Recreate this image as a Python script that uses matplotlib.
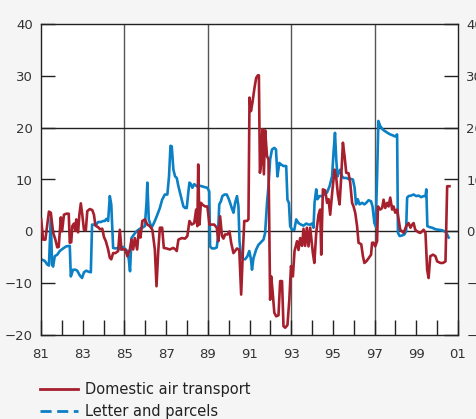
import numpy as np
import matplotlib
matplotlib.use("Agg")
import matplotlib.pyplot as plt
from matplotlib.lines import Line2D

# Domestic air transport (red), decimal years / percent
air_t = [1981.01, 1981.10, 1981.21, 1981.38, 1981.47, 1981.58, 1981.69, 1981.78, 1981.85, 1981.95,
         1982.01, 1982.10, 1982.21, 1982.33, 1982.38, 1982.45, 1982.50, 1982.58, 1982.65, 1982.69,
         1982.78, 1982.84, 1982.91, 1982.98, 1983.06, 1983.15, 1983.22, 1983.34, 1983.46, 1983.54,
         1983.61, 1983.74, 1983.83, 1983.94, 1984.02, 1984.11, 1984.22, 1984.30, 1984.37, 1984.46,
         1984.57, 1984.70, 1984.78, 1984.86, 1984.94, 1985.05, 1985.14, 1985.26, 1985.34, 1985.42,
         1985.50, 1985.61, 1985.69, 1985.77, 1985.86, 1985.98, 1986.10, 1986.22, 1986.34, 1986.46,
         1986.54, 1986.62, 1986.70, 1986.81, 1986.89, 1987.02, 1987.18, 1987.34, 1987.45, 1987.51,
         1987.59, 1987.75, 1987.91, 1988.02, 1988.12, 1988.23, 1988.35, 1988.44, 1988.50, 1988.54,
         1988.60, 1988.67, 1988.76, 1988.87, 1988.98, 1989.08, 1989.19, 1989.31, 1989.43, 1989.51,
         1989.59, 1989.68, 1989.75, 1989.83, 1989.94, 1990.04, 1990.12, 1990.23, 1990.40, 1990.51,
         1990.60, 1990.68, 1990.75, 1990.88, 1990.95, 1991.00, 1991.07, 1991.14, 1991.24, 1991.32,
         1991.40, 1991.45, 1991.50, 1991.56, 1991.62, 1991.69, 1991.75, 1991.84, 1991.91, 1991.99,
         1992.04, 1992.10, 1992.19, 1992.28, 1992.39, 1992.47, 1992.56, 1992.63, 1992.71, 1992.82,
         1992.91, 1992.99, 1993.08, 1993.16, 1993.28, 1993.35, 1993.43, 1993.52, 1993.59, 1993.67,
         1993.75, 1993.83, 1993.91, 1994.04, 1994.11, 1994.20, 1994.31, 1994.39, 1994.44, 1994.52,
         1994.63, 1994.72, 1994.79, 1994.87, 1994.98, 1995.08, 1995.16, 1995.24, 1995.32, 1995.40,
         1995.48, 1995.56, 1995.64, 1995.75, 1995.83, 1995.92, 1995.99, 1996.07, 1996.16, 1996.23,
         1996.36, 1996.44, 1996.51, 1996.60, 1996.71, 1996.83, 1996.88, 1996.95, 1997.03, 1997.12,
         1997.16, 1997.27, 1997.36, 1997.43, 1997.51, 1997.60, 1997.67, 1997.75, 1997.84, 1997.91,
         1997.99, 1998.08, 1998.15, 1998.23, 1998.32, 1998.39, 1998.52, 1998.63, 1998.72, 1998.80,
         1998.87, 1998.95, 1999.04, 1999.11, 1999.19, 1999.28, 1999.35, 1999.44, 1999.52, 1999.59,
         1999.67, 1999.80, 1999.92, 2000.00, 2000.16, 2000.28, 2000.40, 2000.48, 2000.59]
air_v = [2.3, -1.6, -1.6, 3.8, 3.6, -0.2, -1.6, -3.1, -3.0, 2.7,
         0.0, 3.2, 3.4, 3.4, -2.2, -2.1, 1.0, 1.5, 0.1, 2.3,
         -0.2, 3.2, 5.4, 3.2, 0.3, 0.2, 3.9, 4.3, 4.1, 3.2,
         1.1, 0.8, 0.4, 0.5, -1.1, -1.9, -3.5, -5.1, -5.4, -4.2,
         -4.2, -3.8, 0.3, -3.5, -3.5, -3.5, -4.8, -3.5, -1.6, -3.5,
         -1.3, -3.5, 0.1, -1.2, 2.0, 2.3, 1.3, 1.0, 0.3, -3.5,
         -10.6, -4.0, 0.7, 0.7, -3.2, -3.3, -3.5, -3.2, -3.5, -3.8,
         -1.6, -1.3, -1.4, -0.9, 2.0, 1.3, 1.6, 4.2, 1.0, 12.9,
         1.3, 5.5, 5.1, 4.8, 4.8, 1.3, 1.3, 1.3, 0.7, -1.9,
         2.9, -0.9, -1.4, -0.6, -0.6, 0.0, -2.2, -4.2, -3.3, -3.6,
         -12.2, -4.2, 2.0, 2.0, 2.3, 25.8, 23.2, 24.8, 27.7, 29.6,
         30.1, 30.1, 11.3, 13.2, 19.7, 11.0, 19.5, 14.5, 13.9, -13.2,
         -8.7, -11.2, -15.7, -16.4, -16.2, -9.6, -9.6, -18.3, -18.6, -18.1,
         -13.2, -6.7, -8.7, -3.8, -1.9, -3.6, -1.3, -2.8, 0.5, -2.8,
         0.7, -2.9, 0.7, -4.2, -6.1, -0.3, 3.2, 4.2, -4.5, 8.1,
         7.9, 5.5, 6.2, 3.2, 8.1, 11.9, 10.3, 7.1, 5.2, 10.6,
         17.1, 14.5, 11.3, 11.2, 9.4, 5.5, 4.8, 3.6, 1.0, -2.2,
         -2.5, -4.8, -6.1, -5.8, -5.2, -4.5, -2.2, -2.2, -2.9, -1.9,
         4.8, 4.2, 4.5, 6.1, 4.5, 5.5, 4.8, 6.5, 4.2, 4.8,
         3.6, 4.2, 2.3, 0.3, 0.0, -0.3, 1.0, 1.6, 0.7, 1.3,
         1.6, 0.3, 0.0, -0.2, -0.3, 0.0, 0.3, -0.3, -7.4, -9.0,
         -4.8, -4.5, -4.8, -5.8, -6.1, -6.1, -5.8, 8.7, 8.7]

# Letter and parcels (blue)
mail_t = [1981.01, 1981.18, 1981.30, 1981.38, 1981.47, 1981.53, 1981.58, 1981.66, 1981.78, 1981.90,
          1982.06, 1982.21, 1982.38, 1982.43, 1982.54, 1982.65, 1982.74, 1982.86, 1982.97, 1983.06,
          1983.17, 1983.29, 1983.39, 1983.45, 1983.54, 1983.65, 1983.74, 1983.87, 1983.98, 1984.06,
          1984.13, 1984.22, 1984.30, 1984.37, 1984.46, 1984.57, 1984.70, 1984.83, 1984.94, 1985.05,
          1985.14, 1985.21, 1985.27, 1985.34, 1985.46, 1985.58, 1985.74, 1985.86, 1985.98, 1986.06,
          1986.10, 1986.17, 1986.30, 1986.38, 1986.46, 1986.58, 1986.70, 1986.81, 1986.94, 1987.06,
          1987.14, 1987.21, 1987.27, 1987.35, 1987.43, 1987.51, 1987.59, 1987.67, 1987.75, 1987.83,
          1987.91, 1987.99, 1988.07, 1988.12, 1988.19, 1988.26, 1988.35, 1988.47, 1988.60, 1988.71,
          1988.87, 1988.98, 1989.07, 1989.11, 1989.20, 1989.32, 1989.43, 1989.48, 1989.55, 1989.63,
          1989.70, 1989.80, 1989.91, 1989.99, 1990.07, 1990.15, 1990.23, 1990.31, 1990.40, 1990.47,
          1990.52, 1990.59, 1990.68, 1990.79, 1990.90, 1990.99, 1991.07, 1991.12, 1991.19, 1991.32,
          1991.43, 1991.55, 1991.67, 1991.75, 1991.84, 1991.91, 1991.99, 1992.08, 1992.19, 1992.27,
          1992.34, 1992.43, 1992.51, 1992.63, 1992.76, 1992.82, 1992.89, 1992.95, 1993.04, 1993.15,
          1993.24, 1993.35, 1993.47, 1993.59, 1993.72, 1993.83, 1993.91, 1994.00, 1994.07, 1994.12,
          1994.20, 1994.26, 1994.36, 1994.48, 1994.59, 1994.72, 1994.84, 1994.96, 1995.03, 1995.10,
          1995.16, 1995.22, 1995.31, 1995.35, 1995.44, 1995.51, 1995.64, 1995.75, 1995.87, 1995.96,
          1996.04, 1996.11, 1996.19, 1996.28, 1996.40, 1996.51, 1996.60, 1996.71, 1996.83, 1996.90,
          1996.99, 1997.05, 1997.12, 1997.18, 1997.27, 1997.40, 1997.51, 1997.62, 1997.75, 1997.88,
          1997.99, 1998.08, 1998.12, 1998.20, 1998.32, 1998.43, 1998.51, 1998.56, 1998.63, 1998.75,
          1998.87, 1999.00, 1999.11, 1999.23, 1999.35, 1999.44, 1999.48, 1999.53, 1999.64, 1999.76,
          1999.92, 2000.07, 2000.24, 2000.35, 2000.44, 2000.50, 2000.55]
mail_v = [-5.4, -5.7, -6.4, -6.6, 2.6, -6.4, -6.8, -4.8, -4.5, -3.8,
          -3.3, -2.9, -2.8, -8.7, -7.4, -7.4, -7.6, -8.5, -9.0, -7.9,
          -7.6, -7.8, -7.9, 1.3, 1.3, 1.3, 1.8, 1.8, 2.0, 2.0,
          2.4, 2.0, 6.8, 5.2, -3.2, -3.3, -3.2, -3.5, -3.0, -3.5,
          -3.8, -5.4, -7.7, -1.3, -0.6, 0.0, 0.5, 0.7, 1.0, 5.5,
          9.4, 2.3, 0.7, 1.3, 2.0, 3.2, 4.5, 6.1, 7.1, 7.1,
          10.6, 16.5, 16.4, 11.9, 10.6, 10.3, 8.7, 7.4, 6.1, 4.8,
          4.5, 4.5, 7.7, 9.4, 9.1, 8.4, 9.1, 8.7, 8.8, 8.7,
          8.5, 8.4, 7.7, -2.9, -3.3, -3.3, -3.1, -1.3, 5.2, 5.8,
          6.8, 7.1, 7.1, 6.4, 5.5, 4.5, 3.6, 5.5, 6.8, 4.8,
          -1.9, -4.8, -5.3, -5.4, -4.8, -3.8, -5.4, -7.4, -5.2, -3.5,
          -2.6, -2.1, -1.6, -0.3, 5.5, 8.7, 13.9, 15.8, 16.1, 15.8,
          10.6, 13.2, 12.9, 12.6, 12.6, 6.1, 5.5, 1.0, 0.3, 0.3,
          2.3, 1.6, 1.3, 1.1, 1.5, 1.3, 1.3, 1.5, 0.7, 5.5,
          8.1, 6.2, 6.8, 6.8, 7.1, 7.5, 8.7, 10.6, 15.2, 19.0,
          13.9, 10.6, 11.6, 11.9, 10.6, 10.3, 10.3, 10.1, 10.1, 10.0,
          8.4, 5.2, 6.2, 5.2, 5.5, 5.2, 5.5, 6.0, 5.8, 4.8,
          1.6, 1.0, 10.6, 21.3, 20.3, 19.6, 19.3, 19.0, 18.7, 18.5,
          18.3, 18.7, -0.3, -0.9, -0.8, -0.6, 0.0, 6.5, 6.8, 6.9,
          7.1, 6.8, 6.9, 6.6, 6.8, 6.8, 8.1, 1.0, 0.8, 0.7,
          0.4, 0.3, 0.2, 0.0, -0.2, -0.8, -1.2]

xlabels = ['81', '83', '85', '87', '89', '91', '93', '95', '97', '99', '01']
ylabels = [40, 30, 20, 10, 0, -10, -20]

red = '#a61f2d'
blue = '#0b80c5'
bg = '#f5f5f5'

fig = plt.figure(figsize=(4.77, 4.19), dpi=100, facecolor=bg)
ax = fig.add_axes([41/477, 1-335/419, 417/477, 311/419])
ax.set_facecolor('white')

ax.plot(air_t, air_v, color=red, lw=1.9, zorder=3)
ax.plot(mail_t, mail_v, color=blue, lw=1.9, zorder=2)

ax.set_xlim(1981, 2001)
ax.set_ylim(-20, 40)

# grid lines
for yr in [1985, 1989, 1993, 1997]:
    ax.axvline(yr, color='#555555', lw=1.0, zorder=1)
for yv in [20, 0]:
    ax.axhline(yv, color='#222222', lw=1.0, zorder=1)

ax.set_xticks(range(1981, 2002, 2))
ax.set_xticklabels(xlabels)
ax.set_xticks(range(1981, 2002), minor=True)
ax.tick_params(axis='x', which='both', direction='in', length=11, width=1,
               colors='#222222', labelcolor='#333333', labelsize=9.5, pad=9,
               top=False)
ax.set_yticks(ylabels)
ax.tick_params(axis='y', direction='in', length=10, width=1, colors='#222222',
               labelcolor='#333333', labelsize=9.5, pad=6,
               left=True, right=True, labelleft=True, labelright=True)

for s in ax.spines.values():
    s.set_color('#222222')
    s.set_linewidth(1.0)

handles = [Line2D([], [], color=red, lw=2.0),
           Line2D([], [], color=blue, lw=2.0, ls=(0, (4, 2)))]
fig.legend(handles, ['Domestic air transport', 'Letter and parcels'],
           loc='upper left', bbox_to_anchor=(0.084, 0.089), frameon=False,
           fontsize=10.5, handlelength=2.6, handletextpad=0.5,
           labelspacing=0.5, borderaxespad=0, borderpad=0,
           labelcolor='#222222')

fig.savefig('out.png', dpi=100, facecolor=bg)
